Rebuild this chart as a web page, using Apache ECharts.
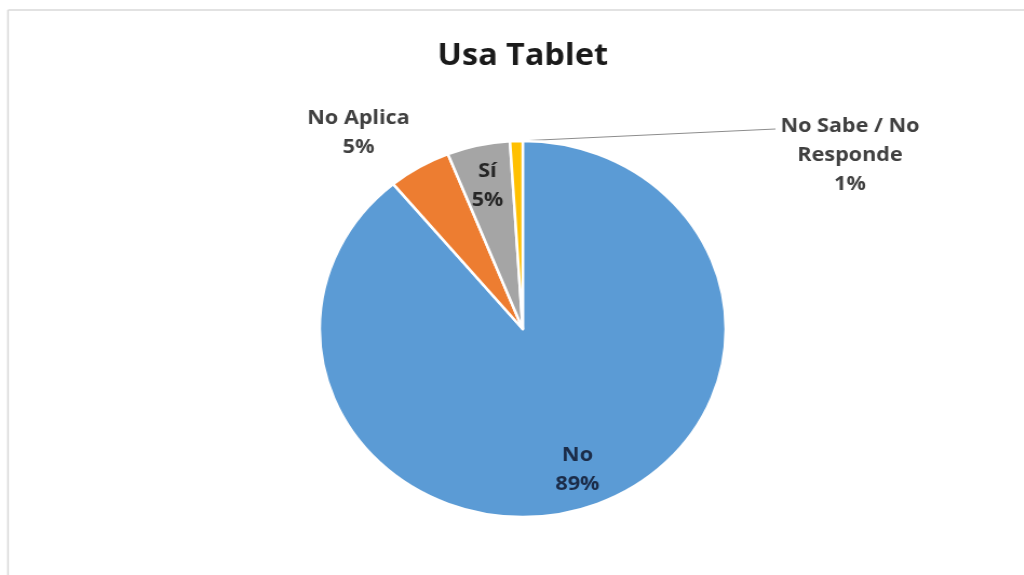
<!DOCTYPE html>
<html>
<head>
<meta charset="utf-8">
<script src="https://cdn.jsdelivr.net/npm/echarts@6/dist/echarts.min.js"></script>
<style>
  html, body { margin: 0; padding: 0; background: #ffffff; overflow: hidden; width: 1024px; height: 575px; }
  #wrap { position: fixed; left: 0; top: 0; width: 1024px; height: 575px; overflow: hidden; background: #ffffff; }
  #chart { position: absolute; left: 0; top: 0; width: 948px; height: 575px; transform: scaleX(1.08); transform-origin: 0 0; }
</style>
</head>
<body>
<div id="wrap"><div id="chart"></div></div>
<script>
// ---- data ----
const chartTitle = 'Usa Tablet';
const categories = ['No', 'No Aplica', 'Sí', 'No Sabe / No Responde'];
const values = [89, 5, 5, 1];
const sliceColors = ['#5b9bd5', '#ed7d31', '#a5a5a5', '#ffc000'];
const insideLabelled = ['No', 'Sí'];

// ---- layout (unscaled px; container is stretched 1.08 horizontally) ----
const cx = 484, cy = 329, R = 188;
const FONT = '"Open Sans", "DejaVu Sans", sans-serif';

function labelText(p) {
  return p.name.replace(' / No ', ' / No\n') + '\n' + Math.round(p.percent) + '%';
}

// leader line for the small slice: starts at the slice's outer edge (mid-angle from the data)
const total = values.reduce((a, b) => a + b, 0);
const smallIdx = categories.indexOf('No Sabe / No Responde');
const before = values.slice(0, smallIdx).reduce((a, b) => a + b, 0);
const midFrac = (before + values[smallIdx] / 2) / total;
const midAng = midFrac * 2 * Math.PI;
const leaderStart = [cx + R * Math.sin(midAng), cy - R * Math.cos(midAng)];
const leaderEnd = [cx + 234, cy - 200];

const chart = echarts.init(document.getElementById('chart'), null, { renderer: 'canvas', width: 948, height: 575 });

const mainData = categories.map((c, i) => ({
  name: c,
  value: values[i],
  itemStyle: { color: sliceColors[i] },
  label: { show: insideLabelled.indexOf(c) < 0 }
}));

const overlayData = categories.map((c, i) => ({
  name: c,
  value: values[i],
  label: {
    show: insideLabelled.indexOf(c) >= 0,
    color: c === 'No' ? '#1b2b47' : '#262626'
  }
}));

chart.setOption({
  animation: false,
  backgroundColor: 'transparent',
  title: {
    text: chartTitle,
    left: cx,
    textAlign: 'center',
    top: 41,
    padding: 0,
    textStyle: { fontFamily: FONT, fontWeight: 'bold', fontSize: 30, color: '#1a1a1a' }
  },
  graphic: [
    {
      type: 'line',
      silent: true,
      shape: { x1: 7.4, y1: 10, x2: 7.4, y2: 575 },
      style: { stroke: '#d9d9d9', lineWidth: 1.5 }
    },
    {
      type: 'line',
      silent: true,
      shape: { x1: 7.4, y1: 10, x2: 948, y2: 10 },
      style: { stroke: '#d9d9d9', lineWidth: 1.5 }
    },
    {
      type: 'line',
      silent: true,
      shape: { x1: leaderStart[0], y1: leaderStart[1], x2: leaderEnd[0], y2: leaderEnd[1] },
      style: { stroke: '#8c8c8c', lineWidth: 1 }
    }
  ],
  series: [
    {
      type: 'pie',
      center: [cx, cy],
      radius: [0, R],
      startAngle: 90,
      clockwise: true,
      avoidLabelOverlap: false,
      itemStyle: { borderColor: '#ffffff', borderWidth: 2.5 },
      emphasis: { disabled: true },
      label: {
        position: 'outside',
        formatter: labelText,
        fontFamily: FONT,
        fontWeight: 'bold',
        fontSize: 20,
        lineHeight: 29,
        color: '#404040',
        align: 'center'
      },
      labelLine: { show: false },
      labelLayout: function (p) {
        const n = categories[p.dataIndex];
        if (n === 'No Aplica') return { x: cx - 152, y: cy - 196, align: 'center', verticalAlign: 'middle' };
        if (n === 'No Sabe / No Responde') return { x: cx + 303, y: cy - 174, align: 'center', verticalAlign: 'middle' };
        return {};
      },
      data: mainData
    },
    {
      type: 'pie',
      silent: true,
      center: [cx, cy],
      radius: [0, R * 1.56],
      startAngle: 90,
      clockwise: true,
      itemStyle: { color: 'rgba(0,0,0,0)', borderWidth: 0 },
      emphasis: { disabled: true },
      label: {
        position: 'inside',
        formatter: labelText,
        fontFamily: FONT,
        fontWeight: 'bold',
        fontSize: 20,
        lineHeight: 29,
        align: 'center'
      },
      labelLine: { show: false },
      labelLayout: function (p) {
        return categories[p.dataIndex] === 'Sí' ? { dy: 3 } : {};
      },
      data: overlayData
    }
  ]
});
</script>
</body>
</html>
